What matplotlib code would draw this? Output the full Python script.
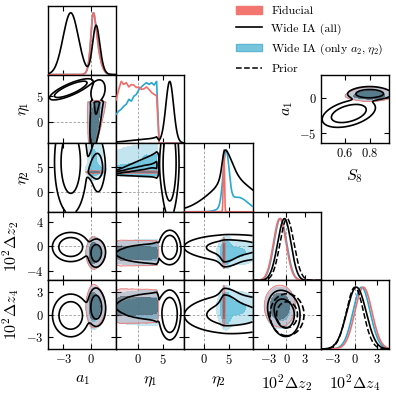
import numpy as np
import matplotlib
matplotlib.use('Agg')
import matplotlib.pyplot as plt
from matplotlib.patches import Patch
from matplotlib.lines import Line2D

plt.rcParams['font.family'] = 'serif'
plt.rcParams['font.serif'] = ['cmr10']
plt.rcParams['mathtext.fontset'] = 'cm'
plt.rcParams['axes.formatter.use_mathtext'] = True

# ---------------- data ----------------
params = ['a1', 'eta1', 'eta2', 'dz2', 'dz4']
labels = [r'$a_1$', r'$\eta_1$', r'$\eta_2$', r'$10^2\Delta z_2$', r'$10^2\Delta z_4$']
ranges = {'a1': (-4.7, 2.8), 'eta1': (-4.25, 9.25), 'eta2': (-4.1, 9.9),
          'dz2': (-5.6, 5.7), 'dz4': (-4.6, 4.6), 's8': (0.40, 0.96)}
xticks = {'a1': [-3, 0], 'eta1': [0, 5], 'eta2': [0, 5], 'dz2': [-3, 0, 3], 'dz4': [-3, 0, 3]}
yticks = {'eta1': [0, 5], 'eta2': [0, 5], 'dz2': [-4, 0, 4], 'dz4': [-3, 0, 3]}
inset_range_a1 = (-6.4, 3.3)
inset_xticks = [0.6, 0.8]
inset_yticks = [-5, 0]

# eta1 posterior (Fiducial / Wide IA only a2,eta2)
eta1_tab_x = [-4.25, -3.75, -3.25, -2.75, -2.25, -1.75, -1.25, -0.75, -0.25,
              0.25, 0.75, 1.25, 1.75, 2.25, 2.75, 3.25, 3.75, 4.25]
fid_eta1_pdf = [0.70, 0.87, 1.00, 0.95, 0.98, 0.91, 0.95, 0.94, 0.90,
                0.91, 0.87, 0.88, 0.91, 0.87, 0.82, 0.79, 0.77, 0.0]
cyan_eta1_pdf = [0.47, 0.52, 0.55, 0.60, 0.63, 0.71, 0.68, 0.76, 0.79,
                 0.87, 0.91, 0.95, 0.98, 0.95, 0.98, 0.94, 1.00, 0.0]
wideB_eta1_pdf = [0.25, 0.28, 0.32, 0.36, 0.42, 0.48, 0.52, 0.58, 0.62,
                  0.68, 0.72, 0.78, 0.82, 0.86, 0.90, 0.95, 1.00, 0.0]

# conditional Gaussians given eta1: [mean, slope, sigma, sigma slope, eta1 ref]
fid_a1 = [0.45, 0.06, 0.40, 0.05, 0.0]
fid_eta2 = [4.0, 0.0, 0.12, 0.0, 0.0]
fid_dz2 = [-1.1, 0.0, 1.05, 0.0, 0.0]
fid_dz4 = [1.15, 0.0, 1.15, 0.0, 0.0]
fid_s8 = [0.80, 0.003, 0.022, 0.0, 0.0]

cyan_weights = [0.5, 0.5]
cyan_eta2_main = [4.45, 0.0, 0.6, 0.0, 0.0]
cyan_eta2_tail = [6.8, 0.0, 2.2, 0.0, 0.0]
cyan_a1 = [0.42, 0.06, 0.37, 0.05, 0.0]
cyan_dz2 = [-1.0, 0.0, 1.05, 0.0, 0.0]
cyan_dz4 = [0.9, 0.0, 1.15, 0.0, 0.0]
cyan_s8 = [0.80, 0.003, 0.022, 0.0, 0.0]

wide_weights = [0.72, 0.10, 0.18]
wideA_eta1 = [6.35, 0.75]
wideA_a1 = [-2.2, 0.9, 0.5, 0.0, 6.35]
wideA_eta2 = [6.0, 0.0, 5.0, 0.0, 6.35]
wideA_dz2 = [-0.1, 0.0, 1.0, 0.0, 6.35]
wideA_dz4 = [-0.1, 0.0, 1.2, 0.0, 6.35]
wideA_s8 = [0.63, 0.065, 0.02, 0.0, 6.35]
wideC_eta1 = [6.0, 1.3]
wideC_a1 = [0.8, 0.08, 0.45, 0.0, 6.0]
wideC_eta2 = [5.5, 0.0, 3.5, 0.0, 6.0]
wideC_dz2 = [-0.9, 0.0, 1.0, 0.0, 6.0]
wideC_dz4 = [0.8, 0.0, 1.1, 0.0, 6.0]
wideC_s8 = [0.80, 0.0, 0.03, 0.0, 6.0]
wideB_a1 = [0.5, 0.05, 0.35, 0.0, 0.0]
wideB_eta2 = [4.7, 0.2, 0.9, 0.15, 0.0]
wideB_dz2 = [-1.2, 0.0, 1.0, 0.0, 0.0]
wideB_dz4 = [1.1, 0.0, 1.1, 0.0, 0.0]
wideB_s8 = [0.80, 0.003, 0.022, 0.0, 0.0]

prior_dz2 = [0.1, 0.0, 1.15, 0.0, 0.0]
prior_dz4 = [0.0, 0.0, 1.15, 0.0, 0.0]

# ---------------- model ----------------
E = np.linspace(-4.25, 9.25, 109)


def comp(w, eta1, **kw):
    d = dict(w=w, eta1=eta1)
    d.update(kw)
    return d


fid = [comp(1.0, ('table', eta1_tab_x, fid_eta1_pdf), a1=fid_a1, eta2=fid_eta2,
            dz2=fid_dz2, dz4=fid_dz4, s8=fid_s8)]
cyan = [comp(cyan_weights[0], ('table', eta1_tab_x, cyan_eta1_pdf), a1=cyan_a1,
             eta2=cyan_eta2_main, dz2=cyan_dz2, dz4=cyan_dz4, s8=cyan_s8),
        comp(cyan_weights[1], ('table', eta1_tab_x, cyan_eta1_pdf), a1=cyan_a1,
             eta2=cyan_eta2_tail, dz2=cyan_dz2, dz4=cyan_dz4, s8=cyan_s8)]
wide = [comp(wide_weights[0], ('gauss', wideA_eta1[0], wideA_eta1[1]), a1=wideA_a1,
             eta2=wideA_eta2, dz2=wideA_dz2, dz4=wideA_dz4, s8=wideA_s8),
        comp(wide_weights[1], ('gauss', wideC_eta1[0], wideC_eta1[1]), a1=wideC_a1,
             eta2=wideC_eta2, dz2=wideC_dz2, dz4=wideC_dz4, s8=wideC_s8),
        comp(wide_weights[2], ('table', eta1_tab_x, wideB_eta1_pdf), a1=wideB_a1,
             eta2=wideB_eta2, dz2=wideB_dz2, dz4=wideB_dz4, s8=wideB_s8)]
prior = [comp(1.0, ('gauss', 0.0, 3.0), dz2=prior_dz2, dz4=prior_dz4)]


def eta1_w(c):
    s = c['eta1']
    if s[0] == 'gauss':
        w = np.exp(-0.5 * ((E - s[1]) / s[2]) ** 2)
    else:
        w = np.interp(E, s[1], s[2], left=0.0, right=0.0)
    return c['w'] * w / w.sum()


def cond(c, p, x):
    m, sl, sd, sdsl, ref = c[p]
    mean = m + sl * (E - ref)
    s = np.maximum(sd + sdsl * (E - ref), 0.08)
    return np.exp(-0.5 * ((x[None, :] - mean[:, None]) / s[:, None]) ** 2) / s[:, None]


def dens1d(chain, p, x):
    tot = 0
    for c in chain:
        w = eta1_w(c)
        tot = tot + (w if p == 'eta1' else w @ cond(c, p, x))
    return tot


def dens2d(chain, px, py, X, Y):
    D = 0
    for c in chain:
        w = eta1_w(c)
        if px == 'eta1':
            D = D + (cond(c, py, Y) * w[:, None]).T
        elif py == 'eta1':
            D = D + cond(c, px, X) * w[:, None]
        else:
            D = D + (cond(c, py, Y) * w[:, None]).T @ cond(c, px, X)
    return D


def grid(p, rng=None, n=220):
    if p == 'eta1':
        return E
    lo, hi = rng if rng else ranges[p]
    return np.linspace(lo, hi, n)


def levels(D, fracs=(0.95, 0.68)):
    f = np.sort(D.ravel())[::-1]
    c = np.cumsum(f)
    c /= c[-1]
    return [f[min(np.searchsorted(c, fr), len(f) - 1)] for fr in fracs]


# ---------------- style ----------------
red_line = '#f06e6a'
cyan_line = '#2aa7d2'
cyan95 = (0.47, 0.78, 0.87, 0.45)
cyan68 = (0.36, 0.74, 0.85, 0.85)
red95 = (0.75, 0.45, 0.50, 0.25)
red68 = (0.27, 0.30, 0.34, 0.60)
ref_kw = dict(color='#9a9a9a', lw=0.6, ls=(0, (3, 2)), zorder=0)


def fill(ax, X, Y, D, c95, c68, z, edge=None):
    l95, l68 = levels(D)
    ax.contourf(X, Y, D, levels=[l95, l68, D.max() * 1.01], colors=[c95, c68], zorder=z)
    if edge is not None:
        ax.contour(X, Y, D, levels=[l95], colors=[edge], linewidths=0.7, alpha=0.8,
                   zorder=z)


def lines(ax, X, Y, D, ls='-', z=5):
    l95, l68 = levels(D)
    ax.contour(X, Y, D, levels=[l95, l68], colors='k', linewidths=1.2,
               linestyles=ls, zorder=z)


def style(ax):
    ax.tick_params(direction='in', top=True, right=True, length=3.5, width=0.8,
                   labelsize=9, pad=3)
    for s in ax.spines.values():
        s.set_linewidth(1.0)


fig = plt.figure(figsize=(3.96, 3.96), dpi=100)
L, R, T, B = 48, 389, 6, 349
W = (R - L) / 5
H = (B - T) / 5


def add_ax(row, col):
    return fig.add_axes([(L + col * W) / 396, 1 - (T + (row + 1) * H) / 396, W / 396, H / 396])


LABEL_FS = 11.5
n = len(params)
for i in range(n):
    for j in range(i + 1):
        ax = add_ax(i, j)
        style(ax)
        px, py = params[j], params[i]
        if i == j:
            x = grid(px, n=600)
            for chain, col in ((wide, 'k'), (cyan, cyan_line), (fid, red_line)):
                d = dens1d(chain, px, x)
                ax.plot(x, d / d.max(), color=col, lw=1.2, zorder=3 if col != 'k' else 4)
            if px in ('dz2', 'dz4'):
                d = dens1d(prior, px, x)
                ax.plot(x, d / d.max(), color='k', lw=1.1, ls='--', zorder=4)
            ax.axvline(0, **ref_kw)
            ax.set_ylim(0, 1.11)
            ax.set_yticks([])
        else:
            X = grid(px)
            Y = grid(py)
            fill(ax, X, Y, dens2d(cyan, px, py, X, Y), cyan95, cyan68, 1)
            fill(ax, X, Y, dens2d(fid, px, py, X, Y), red95, red68, 2, edge=red_line)
            lines(ax, X, Y, dens2d(wide, px, py, X, Y))
            if px in ('dz2', 'dz4') and py in ('dz2', 'dz4'):
                lines(ax, X, Y, dens2d(prior, px, py, X, Y), ls='--')
            ax.axvline(0, **ref_kw)
            ax.axhline(0, **ref_kw)
            ax.set_ylim(*ranges[py])
            ax.set_yticks(yticks[py])
        ax.set_xlim(*ranges[px])
        ax.set_xticks(xticks[px])
        if i == n - 1:
            ax.set_xlabel(labels[j], fontsize=LABEL_FS, labelpad=5)
        else:
            ax.set_xticklabels([])
        if j == 0 and i > 0:
            ax.set_ylabel(labels[i], fontsize=LABEL_FS, labelpad=3)
        elif i != j:
            ax.set_yticklabels([])

# inset S8 vs a1
ax = add_ax(1, 4)
style(ax)
X = grid('s8')
Y = grid('a1', rng=inset_range_a1)
fill(ax, X, Y, dens2d(cyan, 's8', 'a1', X, Y), cyan95, cyan68, 1)
fill(ax, X, Y, dens2d(fid, 's8', 'a1', X, Y), red95, red68, 2, edge=red_line)
lines(ax, X, Y, dens2d(wide, 's8', 'a1', X, Y))
ax.set_xlim(*ranges['s8'])
ax.set_ylim(*inset_range_a1)
ax.set_xticks(inset_xticks)
ax.set_yticks(inset_yticks)
ax.set_xlabel(r'$S_8$', fontsize=LABEL_FS, labelpad=5)
ax.set_ylabel(r'$a_1$', fontsize=LABEL_FS, labelpad=3)

handles = [Patch(facecolor='#f27570', edgecolor='#f27570'),
           Line2D([], [], color='k', lw=1.2),
           Patch(facecolor='#78c6dd', edgecolor='#5fb8d3'),
           Line2D([], [], color='k', lw=1.1, ls='--')]
names = ['Fiducial', 'Wide IA (all)', r'Wide IA (only $a_2, \eta_2$)', 'Prior']
fig.legend(handles, names, loc='upper left', bbox_to_anchor=(236 / 396, 1 - 6 / 396),
           frameon=False, fontsize=8.6, handlelength=2.2, handleheight=0.6,
           handletextpad=0.75, labelspacing=0.6, borderaxespad=0, borderpad=0)

fig.savefig('out.png', dpi=100)
